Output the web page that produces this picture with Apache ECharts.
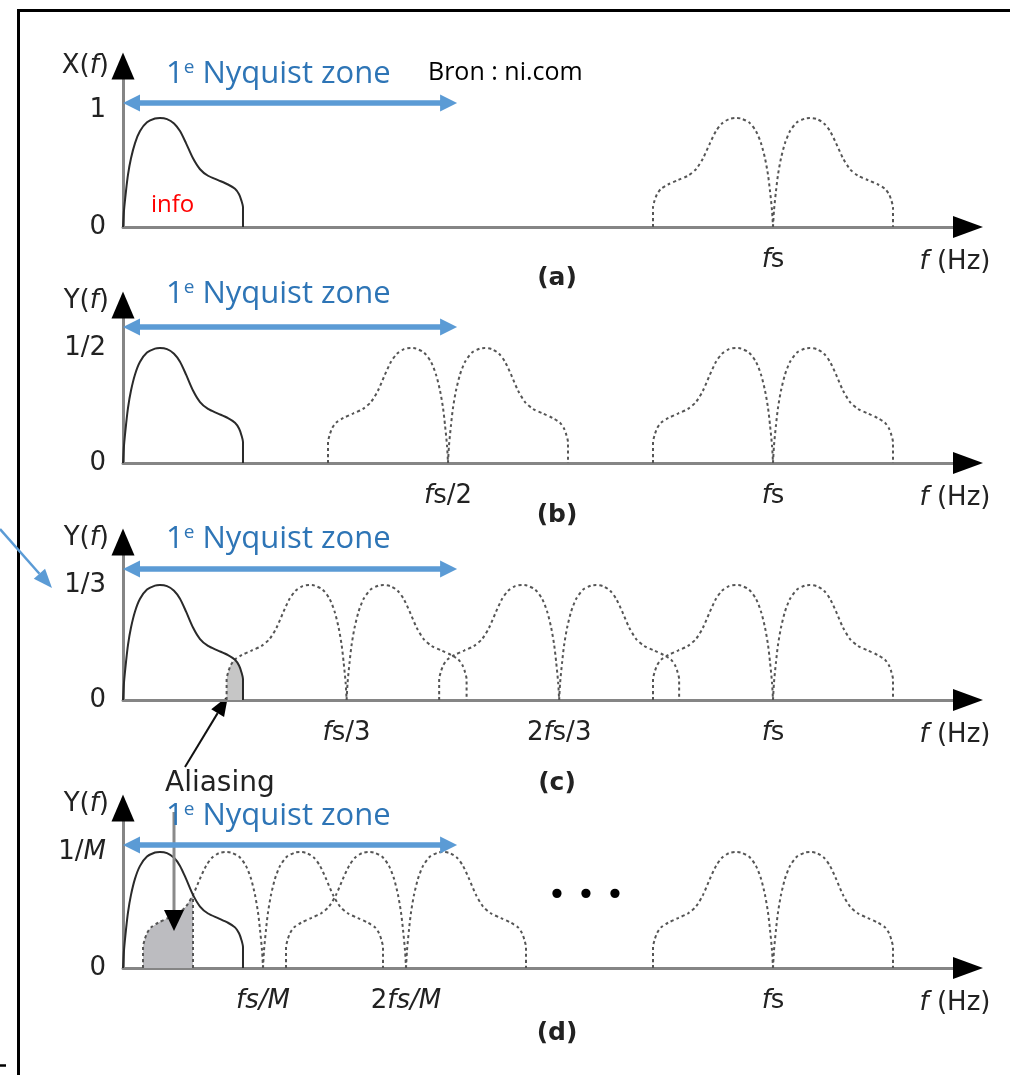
<!DOCTYPE html>
<html><head><meta charset="utf-8">
<script src="https://cdn.jsdelivr.net/npm/echarts@6/dist/echarts.min.js"></script>
<style>html,body{margin:0;padding:0;background:#fff}#c{width:1010px;height:1075px}</style>
</head><body><div id="c"></div>
<script>
// ---------- data ----------
// baseband spectrum X(f): frequency in units of fs, amplitude relative to the peak
const shapeF = [0,0.0015,0.0046,0.0077,0.0123,0.0185,0.0262,0.0369,0.0492,0.0569,0.0677,0.0785,0.0877,0.0969,0.1077,0.1185,0.1308,0.1462,0.1615,0.1723,0.1785,0.1823,0.1846,0.1846];
const shapeA = [0,0.15,0.33,0.48,0.63,0.77,0.88,0.96,0.995,1,0.99,0.95,0.88,0.77,0.63,0.53,0.47,0.43,0.39,0.35,0.30,0.24,0.18,0];
// centres of the spectral images (units of fs) per panel
const imagesA = [1];
const imagesB = [0.5, 1];
const imagesC = [0.344, 0.671, 1];
const imagesD = [0.2154, 0.4354, 1];
// x tick values / labels
const xTickValsA = [1];                  const xTickLabelsA = ['{i|f}s'];
const xTickValsB = [0.5, 1];             const xTickLabelsB = ['{i|f}s/2', '{i|f}s'];
const xTickValsC = [0.344, 0.671, 1];    const xTickLabelsC = ['{i|f}s/3', '2{i|f}s/3', '{i|f}s'];
const xTickValsD = [0.2154, 0.4354, 1];  const xTickLabelsD = ['{i|fs/M}', '2{i|fs/M}', '{i|f}s'];
// y tick values / labels
const yTickValsA = [0, 1.07]; const yTickLabelsA = ['0', '1'];
const yTickValsB = [0, 1];    const yTickLabelsB = ['0', '1/2'];
const yTickValsC = [0, 1];    const yTickLabelsC = ['0', '1/3'];
const yTickValsD = [0, 1];    const yTickLabelsD = ['0', '1/{i|M}'];
const yNames = ['X({i|f})', 'Y({i|f})', 'Y({i|f})', 'Y({i|f})'];
const captions = ['(a)', '(b)', '(c)', '(d)'];
const nyquistZone = [0, 0.514];

// ---------- layout ----------
const FONT = 'DejaVu Sans';
const INK = '#222';
const layout = [
  {top: 66,  height: 161, ymax: 1.477, zoneY: 103, zoneTextY: 74,  capY: 278},
  {top: 305, height: 158, ymax: 1.374, zoneY: 327, zoneTextY: 294, capY: 515},
  {top: 542, height: 158, ymax: 1.374, zoneY: 569, zoneTextY: 539, capY: 783},
  {top: 808, height: 160, ymax: 1.379, zoneY: 845, zoneTextY: 816, capY: 1033}
];
const panels = [
  {images: imagesA, xv: xTickValsA, xl: xTickLabelsA, yv: yTickValsA, yl: yTickLabelsA},
  {images: imagesB, xv: xTickValsB, xl: xTickLabelsB, yv: yTickValsB, yl: yTickLabelsB},
  {images: imagesC, xv: xTickValsC, xl: xTickLabelsC, yv: yTickValsC, yl: yTickLabelsC},
  {images: imagesD, xv: xTickValsD, xl: xTickLabelsD, yv: yTickValsD, yl: yTickLabelsD}
];
const B = shapeF[shapeF.length - 1];
function amp(f) {
  if (f < 0 || f > B) return 0;
  for (let i = 0; i < shapeF.length - 1; i++) {
    const a = shapeF[i], b = shapeF[i + 1];
    if (b > a && f >= a && f <= b) return shapeA[i] + (shapeA[i + 1] - shapeA[i]) * (f - a) / (b - a);
  }
  return 0;
}
const baseband = () => shapeF.map((f, i) => [f, shapeA[i]]);
const image = (c, side) => {
  const p = shapeF.map((f, i) => [c + side * f, shapeA[i]]);
  return side < 0 ? p.reverse() : p;
};
const richI = {i: {fontStyle: 'italic', fontFamily: FONT, fontSize: 26, color: INK}};
const SMOOTH = 0.25;

const grids = [], xAxes = [], yAxes = [], series = [];
panels.forEach((p, k) => {
  const L = layout[k];
  grids.push({left: 123, width: 845, top: L.top, height: L.height});
  const xi = xAxes.length, yi = yAxes.length;
  xAxes.push({
    type: 'value', gridIndex: k, min: 0, max: 1.3, position: 'bottom',
    splitLine: {show: false}, axisTick: {show: false},
    axisLine: {show: true, lineStyle: {color: '#858585', width: 3}},
    axisLabel: {customValues: p.xv, margin: 20, fontFamily: FONT, fontSize: 26, color: INK, rich: richI,
      formatter: v => { const j = p.xv.findIndex(t => Math.abs(t - v) < 1e-6); return j < 0 ? '' : p.xl[j]; }},
    name: '{i|f} (Hz)', nameLocation: 'end', nameGap: -13,
    nameTextStyle: {fontFamily: FONT, fontSize: 26, color: INK, align: 'center', verticalAlign: 'top', padding: [22, 0, 0, 0], rich: richI}
  });
  xAxes.push({
    type: 'value', gridIndex: k, min: 0, max: 1.3, position: 'bottom',
    splitLine: {show: false}, axisTick: {show: false}, axisLabel: {show: false},
    axisLine: {show: true, symbol: ['none', 'triangle'], symbolSize: [22, 30], lineStyle: {color: '#000', width: 0}}
  });
  yAxes.push({
    type: 'value', gridIndex: k, min: 0, max: L.ymax, position: 'left',
    splitLine: {show: false}, axisTick: {show: false},
    axisLine: {show: true, lineStyle: {color: '#858585', width: 3}},
    axisLabel: {customValues: p.yv, margin: 17, fontFamily: FONT, fontSize: 26, color: INK, rich: richI,
      formatter: v => { const j = p.yv.findIndex(t => Math.abs(t - v) < 1e-6); return j < 0 ? '' : p.yl[j]; }},
    name: yNames[k], nameLocation: 'end', nameGap: 0,
    nameTextStyle: {fontFamily: FONT, fontSize: 26, color: INK, align: 'right', verticalAlign: 'middle', padding: [0, 14, k ? 8 : 0, 0], rich: richI}
  });
  yAxes.push({
    type: 'value', gridIndex: k, min: 0, max: L.ymax, position: 'left',
    splitLine: {show: false}, axisTick: {show: false}, axisLabel: {show: false},
    axisLine: {show: true, symbol: ['none', 'triangle'], symbolSize: [23, 27], lineStyle: {color: '#000', width: 0}}
  });
  const common = {type: 'line', xAxisIndex: xi, yAxisIndex: yi, symbol: 'none', silent: true, animation: false};
  // aliasing shading
  if (k === 2) {
    const c = p.images[0], lo = c - B;
    const xs = new Set([lo, B]);
    shapeF.forEach(f => { if (f > lo && f < B) xs.add(f); if (c - f > lo && c - f < B) xs.add(c - f); });
    const arr = [...xs].sort((a, b) => a - b);
    const data = [[lo, 0]].concat(arr.map(x => [x, Math.min(amp(x), amp(c - x))]), [[B, 0]]);
    series.push(Object.assign({}, common, {data, lineStyle: {width: 0}, areaStyle: {color: '#c6c6c6', opacity: 1}, z: 1}));
  }
  if (k === 3) {
    const c = p.images[0], lo = c - B, hi = c / 2;
    const xs = [];
    shapeF.forEach(f => { const x = c - f; if (x > lo && x < hi) xs.push(x); });
    xs.sort((a, b) => a - b);
    const data = [[lo, 0], [lo, amp(B)]].concat(xs.map(x => [x, amp(c - x)]), [[hi, amp(c - hi)], [hi, 0]]);
    series.push(Object.assign({}, common, {data, lineStyle: {width: 0}, areaStyle: {color: '#bcbcc0', opacity: 1}, z: 1}));
    series.push(Object.assign({}, common, {data: [[hi, 0], [hi, amp(c - hi)]], lineStyle: {color: '#555', width: 2, type: [3, 3]}, z: 2}));
  }
  p.images.forEach(c => {
    [-1, 1].forEach(s => series.push(Object.assign({}, common, {data: image(c, s), smooth: SMOOTH, lineStyle: {color: '#555', width: 2, type: [3, 3]}, z: 2})));
  });
  series.push(Object.assign({}, common, {data: baseband(), smooth: SMOOTH, lineStyle: {color: '#2a2a2a', width: 2}, z: 3}));
});

const chart = echarts.init(document.getElementById('c'));
chart.setOption({animation: false, grid: grids, xAxis: xAxes, yAxis: yAxes, series});

// ---------- annotations ----------
function head(tx, ty, fx, fy, len, w) {
  const dx = tx - fx, dy = ty - fy, L = Math.hypot(dx, dy), ux = dx / L, uy = dy / L;
  const bx = tx - ux * len, by = ty - uy * len;
  return {pts: [[tx, ty], [bx - uy * w / 2, by + ux * w / 2], [bx + uy * w / 2, by - ux * w / 2]], bx, by};
}
const g = [];
// frame
g.push({type: 'line', shape: {x1: 17, y1: 10.5, x2: 1010, y2: 10.5}, style: {stroke: '#000', lineWidth: 3}});
g.push({type: 'line', shape: {x1: 18.5, y1: 9, x2: 18.5, y2: 1075}, style: {stroke: '#000', lineWidth: 3}});
g.push({type: 'line', shape: {x1: 0, y1: 1065.5, x2: 6, y2: 1065.5}, style: {stroke: '#000', lineWidth: 2.5}});
// blue pointer to 1/3
{
  const h = head(52, 588, 0, 529, 19, 15);
  g.push({type: 'line', shape: {x1: 0, y1: 529, x2: h.bx, y2: h.by}, style: {stroke: '#5B9BD5', lineWidth: 2.5}});
  g.push({type: 'polygon', shape: {points: h.pts}, style: {fill: '#5B9BD5'}});
}
layout.forEach((L, k) => {
  const xL = chart.convertToPixel({xAxisIndex: 2 * k, yAxisIndex: 2 * k}, [nyquistZone[0], 0])[0];
  const xR = chart.convertToPixel({xAxisIndex: 2 * k, yAxisIndex: 2 * k}, [nyquistZone[1], 0])[0];
  const y = L.zoneY, hl = 17, hw = 8.5, t = 2.7;
  g.push({type: 'polygon', z: 10, shape: {points: [[xL, y], [xL + hl, y - hw], [xL + hl, y - t], [xR - hl, y - t], [xR - hl, y - hw], [xR, y], [xR - hl, y + hw], [xR - hl, y + t], [xL + hl, y + t], [xL + hl, y + hw]]}, style: {fill: '#5B9BD5'}});
  g.push({type: 'text', z: 10, x: 166, y: L.zoneTextY, style: {text: '1{sup|e} Nyquist zone', fontFamily: 'Open Sans', fontSize: 31, fill: '#2E75B6', verticalAlign: 'middle',
    rich: {sup: {fontFamily: 'Open Sans', fontSize: 19, fill: '#2E75B6', verticalAlign: 'top'}}}});
  g.push({type: 'text', x: 557, y: L.capY, style: {text: captions[k], fontFamily: FONT, fontSize: 25, fontWeight: 'bold', fill: INK, align: 'center', verticalAlign: 'middle'}});
});
g.push({type: 'text', x: 428, y: 73, style: {text: 'Bron : ni.com', fontFamily: 'Open Sans', fontSize: 25, fill: '#000', verticalAlign: 'middle'}});
g.push({type: 'text', x: 151, y: 205, style: {text: 'info', fontFamily: 'Open Sans', fontSize: 24, fill: '#FF0000', verticalAlign: 'middle'}});
g.push({type: 'text', x: 165, y: 784, style: {text: 'Aliasing', fontFamily: FONT, fontSize: 28, fill: INK, verticalAlign: 'middle'}});
g.push({type: 'text', x: 586, y: 897, style: {text: '• • •', fontFamily: FONT, fontSize: 32, fill: '#000', align: 'center', verticalAlign: 'middle'}});
// aliasing arrows
{
  const h = head(228, 696, 185, 767, 20, 15);
  g.push({type: 'line', shape: {x1: 185, y1: 767, x2: h.bx, y2: h.by}, style: {stroke: '#111', lineWidth: 2}});
  g.push({type: 'polygon', shape: {points: h.pts}, style: {fill: '#000'}});
  const h2 = head(174, 931, 174, 812, 21, 20);
  g.push({type: 'line', z: 9, shape: {x1: 174, y1: 812, x2: 174, y2: h2.by}, style: {stroke: '#8a8a8a', lineWidth: 3}});
  g.push({type: 'polygon', z: 9, shape: {points: h2.pts}, style: {fill: '#000'}});
}
chart.setOption({graphic: g});
</script></body></html>
